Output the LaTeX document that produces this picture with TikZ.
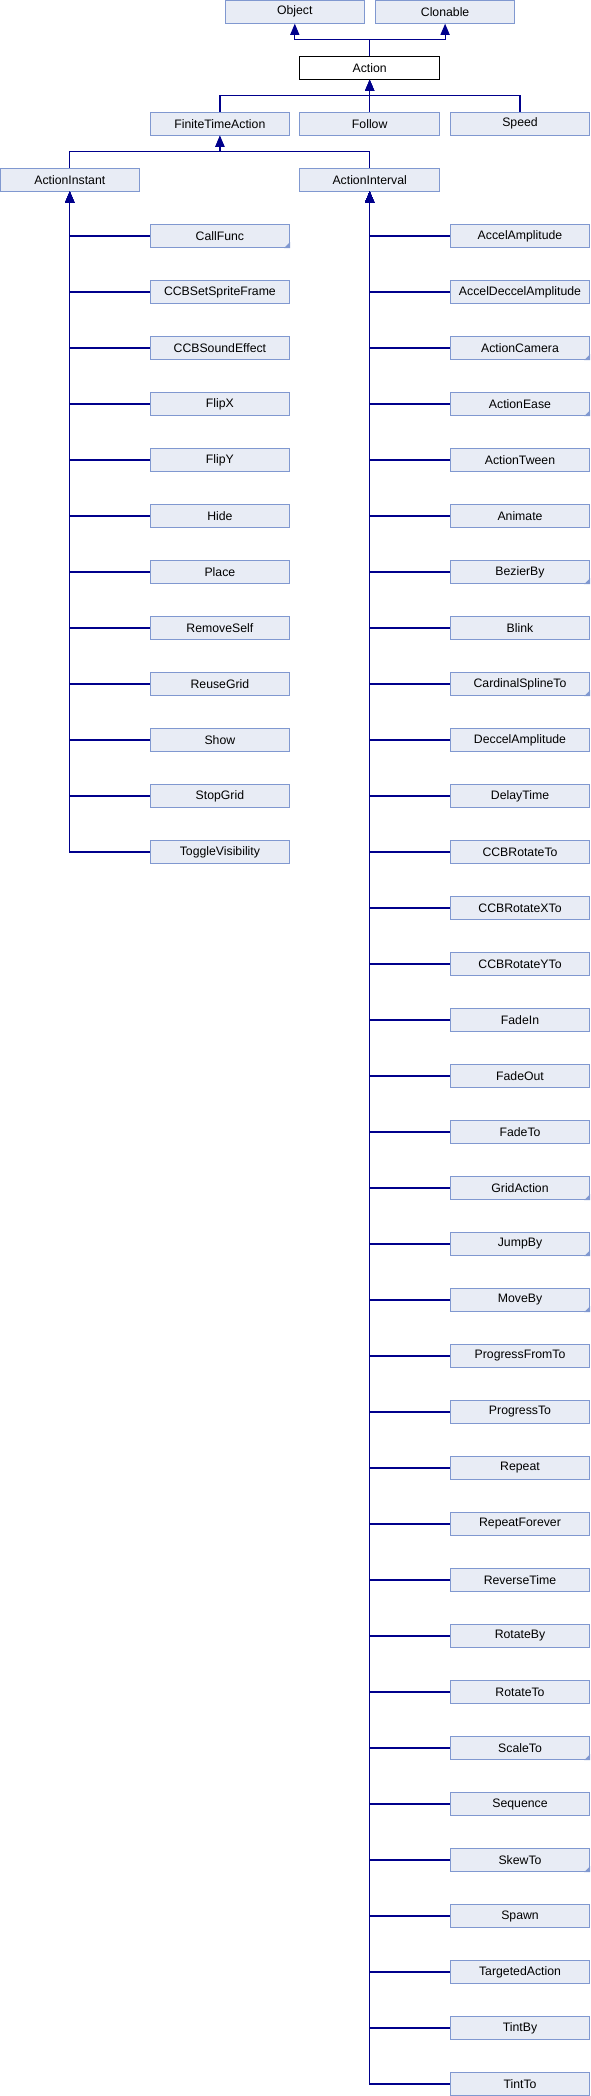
\documentclass[tikz,border=0pt]{standalone}
\usepackage{fontspec}
\setmainfont{Liberation Sans}
\usepackage{tikz}
\usetikzlibrary{arrows}
\definecolor{boxfill}{RGB}{232,236,245}
\definecolor{boxline}{RGB}{128,152,208}
\definecolor{linkblue}{RGB}{0,0,140}

\begin{document}
\begin{tikzpicture}[x=0.75pt,y=-0.75pt,
    cls/.style={draw=boxline,fill=boxfill,line width=0.75pt,inner sep=0pt,
        minimum width=104.6pt,minimum height=17.3pt,font=\fontsize{9.2}{11}\selectfont},
    this/.style={cls,draw=black,fill=white},
    inh/.style={draw=linkblue,line width=0.9pt,-triangle 45}]
    \useasboundingbox (0,0) rectangle (590,2096);
    \def\foldmark#1{\fill[boxline] (#1.south east) -- ++(-6,0) -- ++(6,-6) -- cycle;}
    % --- BASES AND ACTION ---
	\node[cls] (object) at (294.8,11.7) {Object};
	\node[cls] (clonable) at (445.1,11.7) {Clonable};
	\node[this] (action) at (369.7,67.7) {Action};
	\draw[inh] (action.north) -- ++(0,-16) -| (object.south);
	\draw[inh] (action.north) -- ++(0,-16) -| (clonable.south);
	\node[cls] (finiteTime) at (219.9,123.7) {FiniteTimeAction};
	\node[cls] (follow) at (369.7,123.7) {Follow};
	\node[cls] (speed) at (520,123.7) {Speed};
	\draw[inh] (finiteTime.north) -- ++(0,-16) -| (action.south);
	\draw[inh] (follow.north) -- (action.south);
	\draw[inh] (speed.north) -- ++(0,-16) -| (action.south);
	\node[cls] (instant) at (69.8,179.7) {ActionInstant};
	\node[cls] (interval) at (369.7,179.7) {ActionInterval};
	\draw[inh] (instant.north) -- ++(0,-16) -| (finiteTime.south);
	\draw[inh] (interval.north) -- ++(0,-16) -| (finiteTime.south);

    % --- INSTANT ACTIONS (LEFT) ---
	\node[cls] (callFunc) at (219.9,236) {CallFunc}; \draw[inh] (callFunc.west) -| (instant.south);
	\node[cls] (spriteFrame) at (219.9,292) {CCBSetSpriteFrame}; \draw[inh] (spriteFrame.west) -| (instant.south);
	\node[cls] (soundEffect) at (219.9,348) {CCBSoundEffect}; \draw[inh] (soundEffect.west) -| (instant.south);
	\node[cls] (flipX) at (219.9,404) {FlipX}; \draw[inh] (flipX.west) -| (instant.south);
	\node[cls] (flipY) at (219.9,460) {FlipY}; \draw[inh] (flipY.west) -| (instant.south);
	\node[cls] (hide) at (219.9,516) {Hide}; \draw[inh] (hide.west) -| (instant.south);
	\node[cls] (place) at (219.9,572) {Place}; \draw[inh] (place.west) -| (instant.south);
	\node[cls] (removeSelf) at (219.9,628) {RemoveSelf}; \draw[inh] (removeSelf.west) -| (instant.south);
	\node[cls] (reuseGrid) at (219.9,684) {ReuseGrid}; \draw[inh] (reuseGrid.west) -| (instant.south);
	\node[cls] (show) at (219.9,740) {Show}; \draw[inh] (show.west) -| (instant.south);
	\node[cls] (stopGrid) at (219.9,796) {StopGrid}; \draw[inh] (stopGrid.west) -| (instant.south);
	\node[cls] (toggleVis) at (219.9,852) {ToggleVisibility}; \draw[inh] (toggleVis.west) -| (instant.south);
	\foldmark{callFunc}

    % --- INTERVAL ACTIONS (RIGHT) ---
	\node[cls] (accelAmp) at (520,236) {AccelAmplitude}; \draw[inh] (accelAmp.west) -| (interval.south);
	\node[cls] (accelDeccel) at (520,292) {AccelDeccelAmplitude}; \draw[inh] (accelDeccel.west) -| (interval.south);
	\node[cls] (camera) at (520,348) {ActionCamera}; \draw[inh] (camera.west) -| (interval.south);
	\node[cls] (ease) at (520,404) {ActionEase}; \draw[inh] (ease.west) -| (interval.south);
	\node[cls] (tween) at (520,460) {ActionTween}; \draw[inh] (tween.west) -| (interval.south);
	\node[cls] (animate) at (520,516) {Animate}; \draw[inh] (animate.west) -| (interval.south);
	\node[cls] (bezierBy) at (520,572) {BezierBy}; \draw[inh] (bezierBy.west) -| (interval.south);
	\node[cls] (blink) at (520,628) {Blink}; \draw[inh] (blink.west) -| (interval.south);
	\node[cls] (cardinal) at (520,684) {CardinalSplineTo}; \draw[inh] (cardinal.west) -| (interval.south);
	\node[cls] (deccelAmp) at (520,740) {DeccelAmplitude}; \draw[inh] (deccelAmp.west) -| (interval.south);
	\node[cls] (delayTime) at (520,796) {DelayTime}; \draw[inh] (delayTime.west) -| (interval.south);
	\node[cls] (rotateTo) at (520,852) {CCBRotateTo}; \draw[inh] (rotateTo.west) -| (interval.south);
	\node[cls] (rotateXTo) at (520,908) {CCBRotateXTo}; \draw[inh] (rotateXTo.west) -| (interval.south);
	\node[cls] (rotateYTo) at (520,964) {CCBRotateYTo}; \draw[inh] (rotateYTo.west) -| (interval.south);
	\node[cls] (fadeIn) at (520,1020) {FadeIn}; \draw[inh] (fadeIn.west) -| (interval.south);
	\node[cls] (fadeOut) at (520,1076) {FadeOut}; \draw[inh] (fadeOut.west) -| (interval.south);
	\node[cls] (fadeTo) at (520,1132) {FadeTo}; \draw[inh] (fadeTo.west) -| (interval.south);
	\node[cls] (gridAction) at (520,1188) {GridAction}; \draw[inh] (gridAction.west) -| (interval.south);
	\node[cls] (jumpBy) at (520,1244) {JumpBy}; \draw[inh] (jumpBy.west) -| (interval.south);
	\node[cls] (moveBy) at (520,1300) {MoveBy}; \draw[inh] (moveBy.west) -| (interval.south);
	\node[cls] (progFromTo) at (520,1356) {ProgressFromTo}; \draw[inh] (progFromTo.west) -| (interval.south);
	\node[cls] (progTo) at (520,1412) {ProgressTo}; \draw[inh] (progTo.west) -| (interval.south);
	\node[cls] (repeat) at (520,1468) {Repeat}; \draw[inh] (repeat.west) -| (interval.south);
	\node[cls] (repeatForever) at (520,1524) {RepeatForever}; \draw[inh] (repeatForever.west) -| (interval.south);
	\node[cls] (reverseTime) at (520,1580) {ReverseTime}; \draw[inh] (reverseTime.west) -| (interval.south);
	\node[cls] (rotateBy2) at (520,1636) {RotateBy}; \draw[inh] (rotateBy2.west) -| (interval.south);
	\node[cls] (rotateTo2) at (520,1692) {RotateTo}; \draw[inh] (rotateTo2.west) -| (interval.south);
	\node[cls] (scaleTo) at (520,1748) {ScaleTo}; \draw[inh] (scaleTo.west) -| (interval.south);
	\node[cls] (sequence) at (520,1804) {Sequence}; \draw[inh] (sequence.west) -| (interval.south);
	\node[cls] (skewTo) at (520,1860) {SkewTo}; \draw[inh] (skewTo.west) -| (interval.south);
	\node[cls] (spawn) at (520,1916) {Spawn}; \draw[inh] (spawn.west) -| (interval.south);
	\node[cls] (targeted) at (520,1972) {TargetedAction}; \draw[inh] (targeted.west) -| (interval.south);
	\node[cls] (tintBy) at (520,2028) {TintBy}; \draw[inh] (tintBy.west) -| (interval.south);
	\node[cls] (tintTo) at (520,2084) {TintTo}; \draw[inh] (tintTo.west) -| (interval.south);
	\foldmark{camera} \foldmark{ease} \foldmark{bezierBy} \foldmark{cardinal} \foldmark{gridAction}
	\foldmark{jumpBy} \foldmark{moveBy} \foldmark{scaleTo} \foldmark{skewTo}
\end{tikzpicture}
\end{document}
